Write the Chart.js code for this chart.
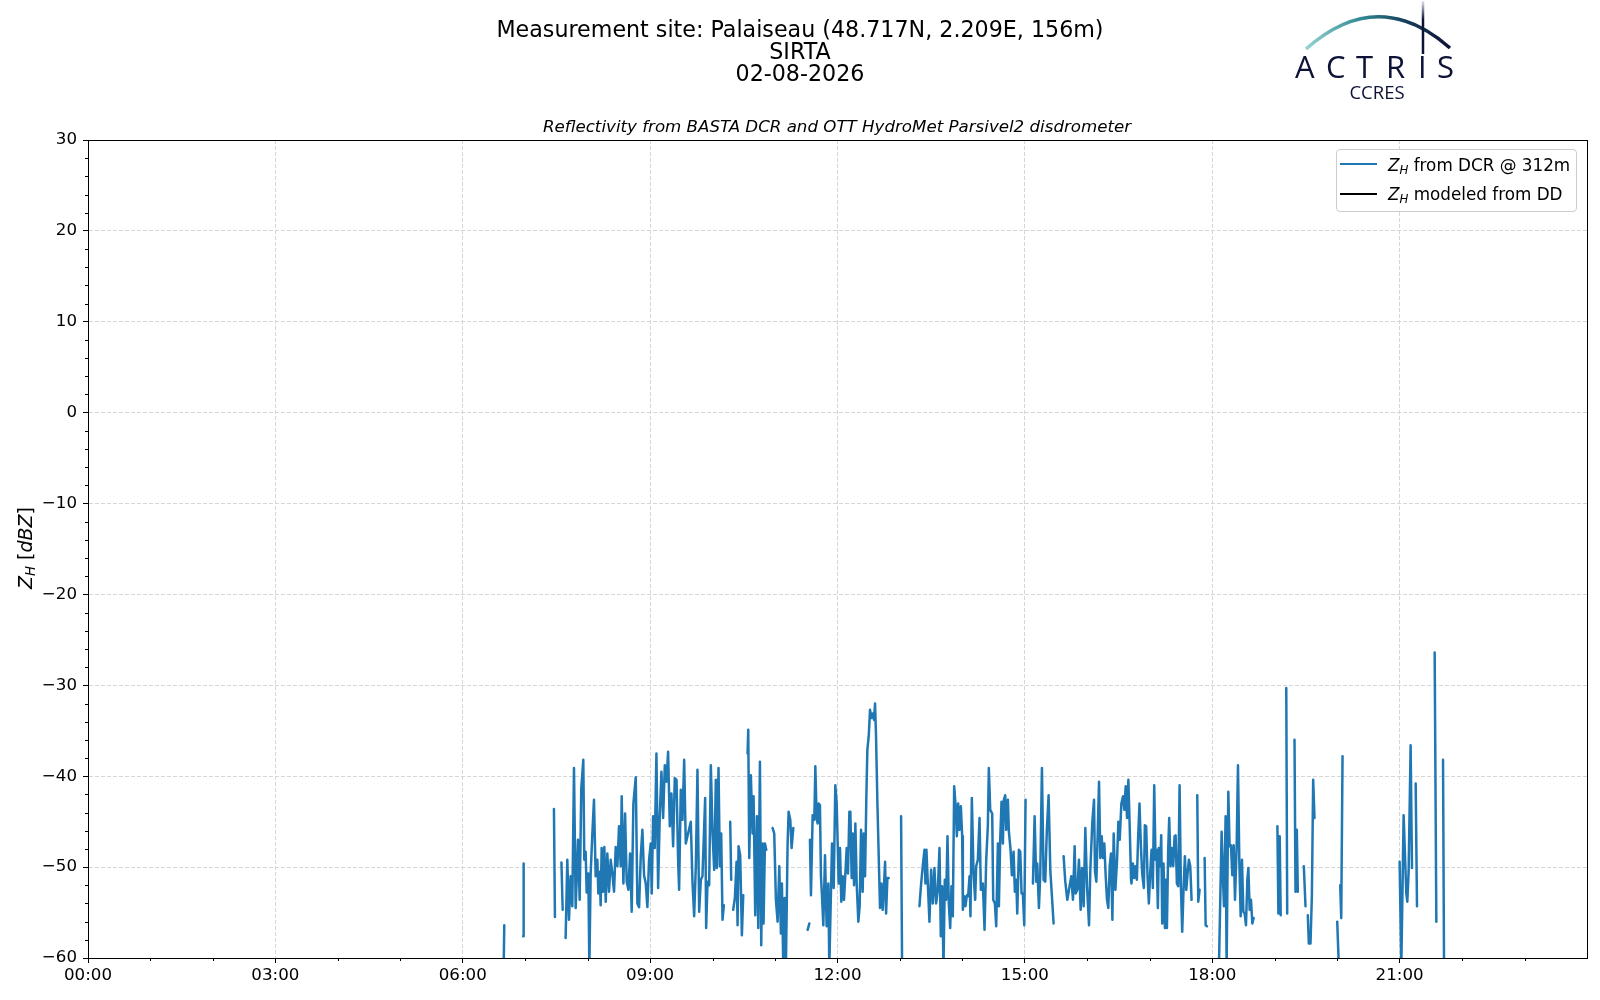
<!DOCTYPE html>
<html>
<head>
<meta charset="utf-8">
<title>Reflectivity SIRTA</title>
<script src="https://cdn.jsdelivr.net/npm/chart.js@4.4.1/dist/chart.umd.min.js"></script>
<style>
    html, body { margin: 0; padding: 0; background: #fff; }
    #page { position: relative; width: 1600px; height: 1000px; font-family: "DejaVu Sans", sans-serif; color: #000; overflow: hidden; }
    #graph { position: absolute; left: 0; top: 0; }
    #header { position: absolute; left: 0; top: 18px; width: 1600px; text-align: center; font-size: 22.2px; line-height: 22px; }
    #subtitle { position: absolute; left: 337px; top: 117px; width: 1000px; text-align: center; font-size: 16.67px; line-height: 20px; font-style: italic; }
    #logo { position: absolute; left: 0; top: 0; }
    #ylabel { position: absolute; left: 25px; top: 548px; transform: translate(-50%, -50%) rotate(-90deg); font-size: 19px; white-space: nowrap; }
    #legend { position: absolute; left: 1336px; top: 149px; width: 239px; height: 61px; border: 1px solid #cccccc; border-radius: 4px; background: rgba(255,255,255,0.8); font-size: 16.8px; }
    .swatch { position: absolute; left: 3px; width: 37px; height: 2px; }
    .lbl { position: absolute; left: 51px; line-height: 20px; white-space: nowrap; }
    i sub { font-size: 0.7em; vertical-align: -0.25em; line-height: 0; }
</style>
</head>
<body>
<div id="page">
    <canvas id="graph" width="1600" height="1000"></canvas>

    <div id="header">Measurement site: Palaiseau (48.717N, 2.209E, 156m)<br>SIRTA<br>02-08-2026</div>
    <div id="subtitle">Reflectivity from BASTA DCR and OTT HydroMet Parsivel2 disdrometer</div>

    <svg id="logo" width="1600" height="110" viewBox="0 0 1600 110">
        <defs>
            <linearGradient id="arcGrad" gradientUnits="userSpaceOnUse" x1="1306" y1="0" x2="1450" y2="0">
                <stop offset="0" stop-color="#93d4cf"/>
                <stop offset="0.4" stop-color="#2e8590"/>
                <stop offset="0.7" stop-color="#173d5a"/>
                <stop offset="1" stop-color="#0d1236"/>
            </linearGradient>
            <linearGradient id="barGrad" gradientUnits="userSpaceOnUse" x1="0" y1="1" x2="0" y2="54">
                <stop offset="0" stop-color="#e4e6f0"/>
                <stop offset="0.35" stop-color="#0d1236"/>
                <stop offset="1" stop-color="#0d1236"/>
            </linearGradient>
        </defs>
        <path d="M1306,49 Q1378,-15 1450,48" fill="none" stroke="url(#arcGrad)" stroke-width="3.5"/>
        <line x1="1423" y1="1" x2="1423" y2="54" stroke="url(#barGrad)" stroke-width="2.5"/>
        <text x="1295 1326 1356 1386 1418 1437" y="78" font-family="Open Sans" font-size="31" fill="#0d1236">ACTRIS</text>
        <text x="1377" y="99" text-anchor="middle" font-family="Open Sans" font-size="18.5" fill="#0d1236">CCRES</text>
    </svg>

    <div id="ylabel"><i>Z<sub>H</sub></i> [<i>dBZ</i>]</div>

    <div id="legend">
        <div class="swatch" style="top:13px; background:#1f77b4;"></div>
        <div class="lbl" style="top:5px;"><i>Z<sub>H</sub></i> from DCR @ 312m</div>
        <div class="swatch" style="top:43px; background:#000;"></div>
        <div class="lbl" style="top:34px;"><i>Z<sub>H</sub></i> modeled from DD</div>
    </div>
</div>

<script>
/* ------------------------ Donnees --------------------- */

/* heure decimale (UTC) ; une valeur null coupe la courbe */
const timeHours = [
    6.655, 6.665, 6.80,
    6.966, 6.975, 7.20,
    7.460, 7.476, 7.53,
    7.580, 7.600, 7.62,
    7.647, 7.674, 7.701, 7.727, 7.754, 7.781, 7.808, 7.845, 7.872, 7.898,
    7.930, 7.946, 7.968, 7.984, 8.011, 8.027, 8.048, 8.075, 8.101, 8.128,
    8.155, 8.171, 8.192, 8.208, 8.224, 8.246, 8.267, 8.289, 8.315, 8.342,
    8.369, 8.395, 8.422, 8.449, 8.476, 8.502, 8.529, 8.545, 8.572, 8.599,
    8.625, 8.652, 8.679, 8.705, 8.732, 8.770, 8.796, 8.823, 8.850, 8.876,
    8.903, 8.930, 8.956, 8.983, 9.010,
    9.026, 9.048, 9.074, 9.101, 9.128, 9.154, 9.181, 9.208, 9.235, 9.261,
    9.288, 9.315, 9.341, 9.368, 9.395, 9.422, 9.448, 9.464, 9.491, 9.518,
    9.545, 9.571, 9.651, 9.678, 9.705, 9.732, 9.758, 9.785, 9.812, 9.838,
    9.881, 9.897, 9.919, 9.945, 9.972, 9.999, 10.026, 10.052, 10.068, 10.095,
    10.116, 10.138, 10.159, 10.180, 10.23,
    10.282, 10.298, 10.31,
    10.330, 10.357, 10.384, 10.400, 10.416, 10.442, 10.469, 10.491, 10.52,
    10.560, 10.571, 10.587, 10.613, 10.640, 10.656, 10.683, 10.710, 10.731, 10.758,
    10.779, 10.800, 10.816, 10.838, 10.859, 10.90,
    10.961, 10.987, 11.014, 11.041, 11.068, 11.094, 11.110, 11.132, 11.153, 11.175,
    11.201, 11.217, 11.244, 11.265, 11.292, 11.40,
    11.522, 11.549, 11.553,
    11.559, 11.575, 11.602, 11.629, 11.645, 11.666, 11.682, 11.698, 11.719, 11.735,
    11.752, 11.773, 11.800, 11.826, 11.853, 11.869, 11.896, 11.912, 11.939, 11.965,
    11.987, 12.003, 12.019, 12.040, 12.061, 12.083, 12.104, 12.126, 12.147, 12.168,
    12.190, 12.206, 12.227, 12.243, 12.265, 12.286, 12.307, 12.334, 12.355, 12.377,
    12.403, 12.420, 12.441, 12.462, 12.478, 12.500, 12.521, 12.542, 12.564, 12.585,
    12.601, 12.617, 12.639, 12.660, 12.681, 12.703, 12.724, 12.746, 12.762, 12.778,
    12.799, 12.820, 12.90,
    13.018, 13.034, 13.20,
    13.312, 13.339, 13.365, 13.392, 13.408, 13.424, 13.446, 13.472, 13.499, 13.526,
    13.552, 13.579, 13.606, 13.633, 13.654, 13.675, 13.697, 13.718, 13.739, 13.761,
    13.782, 13.804, 13.825, 13.846, 13.868, 13.889, 13.911, 13.932, 13.953, 13.975,
    13.996, 14.007, 14.028, 14.049, 14.071, 14.092, 14.114, 14.129, 14.151, 14.178,
    14.204, 14.220, 14.247, 14.274, 14.295, 14.327, 14.354, 14.381, 14.407, 14.423,
    14.445, 14.477, 14.493, 14.520, 14.541, 14.568, 14.584, 14.605, 14.626, 14.648,
    14.664, 14.685, 14.701, 14.728, 14.744, 14.771, 14.792, 14.819, 14.840, 14.862,
    14.878, 14.904, 14.926, 14.947, 14.968, 14.990, 15.011, 15.07,
    15.129, 15.156, 15.182, 15.198, 15.225, 15.246, 15.273, 15.300, 15.326, 15.353,
    15.380, 15.407, 15.460, 15.55,
    15.620, 15.647, 15.679, 15.743, 15.770, 15.797, 15.813, 15.840, 15.866, 15.893,
    15.914, 15.941, 15.968, 15.995, 16.027, 16.048, 16.080, 16.107, 16.123, 16.144,
    16.166, 16.187, 16.208, 16.230, 16.251, 16.272, 16.294, 16.315, 16.336, 16.358,
    16.379, 16.401, 16.422, 16.449, 16.476, 16.497, 16.518, 16.545, 16.572, 16.593,
    16.614, 16.636, 16.657, 16.679, 16.700, 16.707, 16.729, 16.750, 16.771, 16.793,
    16.814, 16.835, 16.857, 16.878, 16.905, 16.921, 16.942, 16.964, 16.985, 17.006,
    17.028, 17.049, 17.071, 17.092, 17.108, 17.129, 17.145, 17.167, 17.183, 17.199,
    17.220, 17.242, 17.258, 17.274, 17.295, 17.311, 17.332, 17.354, 17.375, 17.397,
    17.413, 17.434, 17.455, 17.477, 17.498, 17.519, 17.541, 17.562, 17.584, 17.605,
    17.626, 17.648, 17.669, 17.72,
    17.760, 17.776, 17.797, 17.84,
    17.878, 17.894, 17.915, 18.00,
    18.107, 18.150, 18.172, 18.188, 18.214, 18.230, 18.257, 18.278, 18.300, 18.321,
    18.343, 18.364, 18.391, 18.412, 18.433, 18.455, 18.476, 18.498, 18.519, 18.540,
    18.562, 18.578, 18.599, 18.620, 18.642, 18.663, 18.90,
    19.043, 19.059, 19.080, 19.096, 19.14,
    19.185, 19.200, 19.26,
    19.317, 19.333, 19.354, 19.370, 19.42,
    19.466, 19.493, 19.51,
    19.530, 19.546, 19.573, 19.595, 19.616, 19.637, 19.80,
    20.001, 20.027, 20.04,
    20.049, 20.065, 20.086, 20.50,
    21.000, 21.027, 21.064, 21.107, 21.123, 21.144, 21.176, 21.198, 21.23,
    21.257, 21.278, 21.40,
    21.561, 21.588, 21.65,
    21.695, 21.711
];

/* Z_H mesure par le radar BASTA a 312 m (dBZ) */
const zhDcr = [
    -61, -56.4, null,
    -57.6, -49.6, null,
    -43.6, -55.5, null,
    -49.5, -54.7, null,
    -57.8, -49.2, -55.8, -51.0, -54.3, -39.1, -54.5, -47.0, -53.6, -41.3,
    -38.2, -49.2, -48.3, -52.8, -50.7, -61, -50.7, -46.3, -42.6, -51.0,
    -49.2, -52.9, -50.5, -54.2, -47.9, -52.7, -47.8, -53.8, -48.5, -52.7,
    -49.2, -50.7, -52.7, -47.8, -49.9, -45.5, -49.9, -42.2, -51.8, -44.1,
    -51.6, -52.5, -48.5, -54.9, -43.0, -40.1, -54.0, -54.4, -48.8, -45.9,
    -50.9, -51.8, -54.4, -49.2, -47.4,
    -52.9, -44.4, -47.9, -37.5, -52.3, -44.4, -39.5, -44.6, -38.8, -40.6,
    -37.3, -45.5, -41.9, -47.7, -40.2, -40.4, -49.2, -52.5, -41.5, -44.8,
    -38.2, -47.4, -45.0, -51.6, -55.4, -49.8, -39.3, -54.9, -51.4, -51.0,
    -42.4, -56.7, -51.6, -52.0, -38.8, -46.3, -50.3, -40.4, -50.1, -39.1,
    -49.9, -46.3, -55.8, -54.2, null,
    -45.0, -51.4, null,
    -54.7, -53.4, -49.4, -56.4, -47.7, -48.7, -57.5, -53.1, null,
    -37.5, -34.9, -49.0, -39.9, -46.3, -42.2, -55.3, -44.4, -56.7, -38.4,
    -58.6, -47.4, -56.2, -47.4, -48.1, null,
    -45.7, -46.3, -53.6, -56.0, -49.9, -57.3, -51.8, -61, -53.4, -60.5,
    -47.4, -43.9, -44.8, -47.9, -45.7, null,
    -56.9, -56.2, null,
    -47.0, -53.1, -44.3, -44.8, -38.9, -44.6, -45.2, -43.0, -43.2, -51.0,
    -53.2, -56.4, -48.7, -56.5, -51.8, -61, -52.5, -47.4, -52.3, -41.0,
    -43.0, -47.4, -51.8, -47.9, -53.8, -51.0, -53.6, -50.7, -47.9, -50.7,
    -43.9, -43.9, -51.2, -46.3, -52.0, -45.2, -51.8, -56.0, -54.3, -45.9,
    -52.7, -46.3, -51.0, -42.2, -37.1, -35.6, -32.7, -33.6, -33.1, -33.8,
    -32.0, -35.6, -43.0, -48.8, -54.5, -51.8, -54.7, -51.8, -49.4, -55.1,
    -51.2, -51.2, null,
    -44.4, -61, null,
    -54.3, -51.8, -49.9, -48.1, -51.8, -48.1, -51.8, -56.0, -50.3, -54.0,
    -50.1, -54.0, -52.5, -47.9, -57.6, -52.1, -61, -51.4, -53.6, -46.6,
    -54.0, -56.7, -52.1, -55.4, -41.1, -43.0, -46.6, -43.0, -45.9, -43.3,
    -46.6, -54.7, -53.2, -54.3, -53.1, -53.2, -51.0, -55.4, -42.4, -50.7,
    -53.6, -49.9, -49.2, -44.6, -52.5, -51.8, -56.9, -49.2, -45.5, -39.1,
    -43.7, -44.1, -53.6, -54.0, -56.5, -47.4, -54.3, -47.0, -42.8, -47.4,
    -42.6, -42.1, -45.9, -42.6, -46.1, -48.1, -50.9, -48.3, -52.7, -51.4,
    -55.1, -48.1, -48.3, -52.9, -52.9, -56.4, -42.6, null,
    -51.8, -44.4, -51.6, -49.6, -54.5, -50.9, -39.1, -51.4, -51.6, -45.7,
    -42.1, -50.3, -56.2, null,
    -48.8, -51.6, -53.6, -51.0, -53.6, -47.7, -52.9, -52.5, -49.2, -54.7,
    -50.1, -54.3, -45.7, -52.1, -56.4, -50.3, -45.0, -42.6, -50.5, -51.6,
    -46.3, -40.6, -49.0, -46.6, -49.0, -47.4, -51.0, -53.6, -54.5, -49.9,
    -48.5, -55.8, -46.3, -52.5, -49.2, -45.0, -47.0, -43.0, -42.2, -43.7,
    -41.1, -44.6, -40.4, -45.7, -51.4, -51.8, -49.6, -51.2, -49.9, -51.4,
    -46.6, -43.0, -47.6, -50.7, -52.3, -45.4, -45.5, -51.0, -54.0, -50.7,
    -48.1, -52.3, -41.0, -49.2, -48.1, -54.5, -47.9, -49.9, -46.5, -56.2,
    -49.6, -56.7, -51.4, -56.7, -47.9, -44.6, -49.9, -47.9, -49.9, -46.6,
    -46.5, -51.8, -52.1, -41.0, -52.1, -57.1, -52.3, -48.8, -52.5, -50.7,
    -49.2, -49.9, -53.6, null,
    -42.1, -53.8, -52.5, null,
    -49.0, -56.4, -56.5, null,
    -61, -46.1, -51.4, -54.3, -44.4, -61, -41.7, -47.7, -47.6, -50.9,
    -47.6, -53.6, -47.6, -38.8, -49.2, -55.4, -49.2, -54.9, -55.1, -56.4,
    -51.4, -50.1, -54.7, -53.6, -56.2, -55.6, null,
    -45.5, -55.1, -46.6, -55.3, null,
    -30.3, -55.1, null,
    -36.0, -52.7, -45.9, -52.7, null,
    -49.9, -54.3, null,
    -55.3, -58.4, -58.4, -53.2, -40.4, -44.6, null,
    -56.0, -61, null,
    -52.0, -55.6, -37.8, null,
    -49.4, -61, -44.3, -52.9, -53.8, -50.5, -36.6, -50.1, null,
    -40.8, -54.3, null,
    -26.4, -56.0, null,
    -38.2, -61
];

/* Z_H modelise a partir du disdrometre : pas de donnees ce jour */
const zhModel = [];

/* graduations */
const xMajorStep = 3;      /* heures */
const yMajorStep = 10;     /* dBZ */
const xMinorTicks = [1, 2, 4, 5, 7, 8, 10, 11, 13, 14, 16, 17, 19, 20, 22, 23];
const yMinorTicks = [-58, -56, -54, -52, -48, -46, -44, -42, -38, -36, -34, -32, -28, -26, -24, -22,
                     -18, -16, -14, -12, -8, -6, -4, -2, 2, 4, 6, 8, 12, 14, 16, 18, 22, 24, 26, 28];

if (timeHours.length !== zhDcr.length) {
    console.log("tailles differentes", timeHours.length, zhDcr.length);
}

/* ------------------------ Construction des points --------------------- */

const dcrPoints = [];
for (let i = 0; i < timeHours.length; i++) {
    dcrPoints.push({x: timeHours[i], y: zhDcr[i]});
}

const modelPoints = [];
for (let i = 0; i < zhModel.length; i++) {
    modelPoints.push({x: timeHours[i], y: zhModel[i]});
}

/* ------------------------ Cadre + petites graduations --------------------- */

const frameAndMinor = {
    id: "frameAndMinor",
    afterDatasetsDraw(chart) {
        const ctx = chart.ctx;
        const area = chart.chartArea;
        const xs = chart.scales.x;
        const ys = chart.scales.y;
        ctx.save();
        ctx.strokeStyle = "#000";
        ctx.lineWidth = 1;
        ctx.strokeRect(Math.round(area.left) + 0.5, Math.round(area.top) + 0.5,
                       Math.round(area.right - area.left), Math.round(area.bottom - area.top));
        ctx.beginPath();
        for (const h of xMinorTicks) {
            const px = Math.round(xs.getPixelForValue(h)) + 0.5;
            ctx.moveTo(px, area.bottom);
            ctx.lineTo(px, area.bottom + 3);
        }
        for (const v of yMinorTicks) {
            const py = Math.round(ys.getPixelForValue(v)) + 0.5;
            ctx.moveTo(area.left, py);
            ctx.lineTo(area.left - 3, py);
        }
        ctx.stroke();
        ctx.restore();
    }
};

/* ------------------------ Graphique --------------------- */

const tickFont = {family: "DejaVu Sans", size: 16.67};
const gridColor = "#d6d6d6";

const ctx = document.getElementById("graph").getContext("2d");

const config = {
    type: "line",
    data: {
        datasets: [
            {
                label: "Z_H from DCR @ 312m",
                data: dcrPoints,
                borderColor: "#1f77b4",
                borderWidth: 2.5,
                borderJoinStyle: "round",
                borderCapStyle: "round",
                pointRadius: 0,
                tension: 0,
                spanGaps: false
            },
            {
                label: "Z_H modeled from DD",
                data: modelPoints,
                borderColor: "#000000",
                borderWidth: 2.5,
                pointRadius: 0
            }
        ]
    },
    options: {
        responsive: false,
        animation: false,
        devicePixelRatio: 1,
        layout: {padding: {left: 0, top: 140, right: 13, bottom: 0}},
        plugins: {
            legend: {display: false},
            title: {display: false},
            tooltip: {enabled: false}
        },
        scales: {
            x: {
                type: "linear",
                min: 0,
                max: 24,
                afterFit: function (scale) { scale.height = 42; },
                ticks: {
                    stepSize: xMajorStep,
                    autoSkip: false,
                    maxRotation: 0,
                    padding: 3,
                    color: "#000",
                    font: tickFont,
                    callback: function (v) {
                        if (v >= 24) return "";
                        return String(v).padStart(2, "0") + ":00";
                    }
                },
                grid: {
                    color: function (c) {
                        return (c.tick && (c.tick.value === 0 || c.tick.value === 24)) ? "rgba(0,0,0,0)" : gridColor;
                    },
                    lineWidth: 1,
                    tickLength: 5,
                    tickColor: function (c) {
                        return (c.tick && c.tick.value === 24) ? "rgba(0,0,0,0)" : "#000";
                    },
                    tickWidth: 1
                },
                border: {display: true, color: "#000", width: 1, dash: [4, 2]}
            },
            y: {
                type: "linear",
                min: -60,
                max: 30,
                afterFit: function (scale) { scale.width = 88; },
                ticks: {
                    stepSize: yMajorStep,
                    padding: 6,
                    color: "#000",
                    font: tickFont,
                    callback: function (v) {
                        return v < 0 ? "\u2212" + Math.abs(v) : String(v);
                    }
                },
                grid: {
                    color: function (c) {
                        return (c.tick && (c.tick.value === -60 || c.tick.value === 30)) ? "rgba(0,0,0,0)" : gridColor;
                    },
                    lineWidth: 1,
                    tickLength: 5,
                    tickColor: "#000",
                    tickWidth: 1
                },
                border: {display: true, color: "#000", width: 1, dash: [4, 2]}
            }
        }
    },
    plugins: [frameAndMinor]
};

const myChart = new Chart(ctx, config);
</script>
</body>
</html>
